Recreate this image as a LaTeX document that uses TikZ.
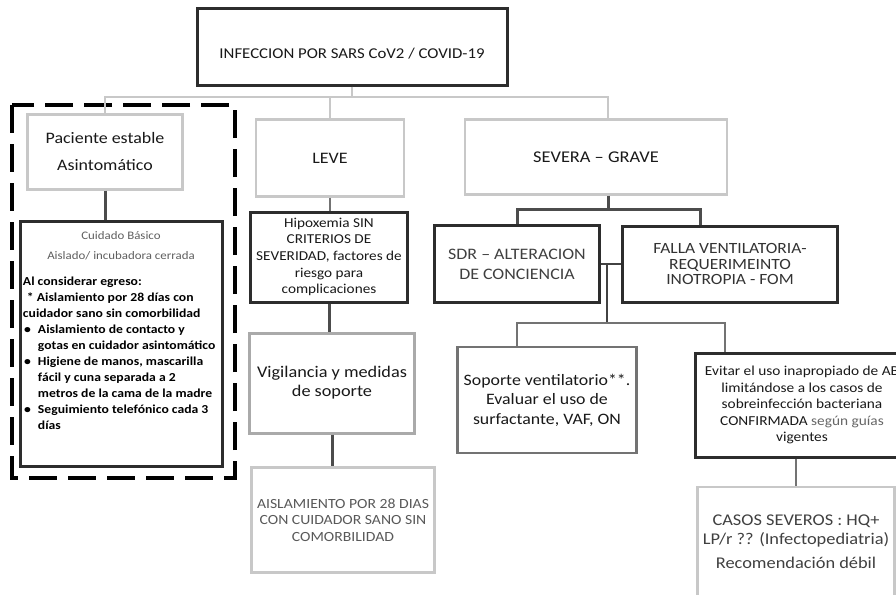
\documentclass[tikz,border=0pt]{standalone}
\usepackage{fontspec}
\setmainfont{Carlito}[FakeStretch=1.12]
\usepackage{tikz}
\definecolor{boxdark}{RGB}{45,45,45}
\definecolor{boxmid}{RGB}{115,115,115}
\definecolor{boxgrey}{RGB}{170,170,170}
\definecolor{boxlight}{RGB}{200,200,200}
\definecolor{textgray}{RGB}{95,95,95}
\newcommand{\fsz}[2]{\fontsize{#1}{#2}\selectfont}
\newcommand{\itm}{\makebox[15pt][l]{\hspace{1pt}\textbullet}}
\tikzset{
  box/.style={rectangle, align=center, inner sep=3pt, text=black!90},
  darkbox/.style={box, draw=boxdark, line width=3pt},
  midbox/.style={box, draw=boxmid, line width=2.2pt},
  greybox/.style={box, draw=boxgrey, line width=3pt},
  lightbox/.style={box, draw=boxlight, line width=2.4pt},
  darkline/.style={draw=boxdark!85, line width=3pt},
  midline/.style={draw=boxdark!90, line width=2pt},
  thinline/.style={draw=boxmid, line width=1.4pt},
  lightline/.style={draw=boxlight, line width=2.6pt},
}

\begin{document}
\begin{tikzpicture}[x=1pt,y=-1pt]
\useasboundingbox (0,0) rectangle (896,594);
\clip (0,0) rectangle (896,594);
\fill[white] (0,0) rectangle (896,594);

% root
\node[darkbox, minimum width=310pt, minimum height=76pt, text height=24pt, text depth=1pt, font=\fsz{15}{18}] (top) at (352,47) {INFECCION POR SARS CoV2 / COVID-19};

% estable
\draw[black, line width=4pt, dash pattern=on 28pt off 11pt] (12,105) rectangle (235,478);
\node[lightbox, minimum width=155pt, minimum height=75pt, font=\fsz{16}{27}] (pac) at (105,152) {Paciente estable\\Asintomático};
\node[darkbox, minimum width=202pt, minimum height=245pt, align=left, inner sep=2pt, text=black, font=\fsz{12.2}{16}\bfseries] (cui) at (121,344) {%
\makebox[196pt][c]{\mdseries\color{textgray}\fsz{11.5}{19}Cuidado Básico}\\[4pt]
\makebox[196pt][c]{\mdseries\color{textgray}\fsz{11.5}{19}Aislado/ incubadora cerrada}\\[10pt]
Al considerar egreso:\\
\hspace*{4pt}* Aislamiento por 28 días con\\
cuidador sano sin comorbilidad\\
\itm Aislamiento de contacto y\\
\hspace*{15pt}gotas en cuidador asintomático\\
\itm Higiene de manos, mascarilla\\
\hspace*{15pt}fácil y cuna separada a 2\\
\hspace*{15pt}metros de la cama de la madre\\
\itm Seguimiento telefónico cada 3\\
\hspace*{15pt}días\\[10pt]};

% leve
\node[lightbox, minimum width=148pt, minimum height=77pt, font=\fsz{16}{19}] (leve) at (330,158) {LEVE};
\node[darkbox, minimum width=157pt, minimum height=90pt, font=\fsz{13.6}{16.7}] (hip) at (329,257) {Hipoxemia SIN\\CRITERIOS DE\\SEVERIDAD, factores de\\riesgo para\\complicaciones};
\node[greybox, minimum width=165pt, minimum height=100pt, font=\fsz{16.3}{19}] (vig) at (332,383) {Vigilancia y medidas\\de soporte};
\node[lightbox, minimum width=183pt, minimum height=105pt, text=black!65, font=\fsz{14}{16.7}] (ais) at (343,520) {AISLAMIENTO POR 28 DIAS\\CON CUIDADOR SANO SIN\\COMORBILIDAD};

% severa
\node[lightbox, minimum width=262pt, minimum height=75pt, font=\fsz{16.4}{19}] (sev) at (596,157) {SEVERA – GRAVE};
\node[darkbox, minimum width=165pt, minimum height=77pt, text=black!75, font=\fsz{16}{20}] (sdr) at (517,264) {SDR – ALTERACION\\DE CONCIENCIA};
\node[darkbox, minimum width=215pt, minimum height=76pt, text=black!80, font=\fsz{15.6}{15.7}] (fal) at (730,264) {FALLA VENTILATORIA-\\REQUERIMEINTO\\INOTROPIA - FOM};
\node[midbox, minimum width=179pt, minimum height=106pt, font=\fsz{15.9}{19.5}] (sop) at (547,400) {Soporte ventilatorio**.\\Evaluar el uso de\\surfactante, VAF, ON};
\node[darkbox, minimum width=214pt, minimum height=104pt, font=\fsz{13.7}{16.5}] (evi) at (802,405) {Evitar el uso inapropiado de AB\\limitándose a los casos de\\sobreinfección bacteriana\\CONFIRMADA {\color{black!60}según guías}\\vigentes};
\node[lightbox, minimum width=197pt, minimum height=110pt, text=black!75, font=\fsz{16.4}{19}] (cas) at (796,542) {CASOS SEVEROS : HQ+\\LP/r ?? (Infectopediatria)\\[5pt]Recomendación débil};

% connectors
\coordinate (bar) at (352,97);
\draw[lightline] (top.south) -- (bar);
\draw[lightline] (pac.north) |- (bar) -| ([xshift=12pt]sev.north);
\draw[lightline] (leve.north |- bar) -- (leve.north);
\draw[darkline] (pac.south) -- (pac.south |- cui.north);
\draw[thinline] (leve.south) -- (leve.south |- hip.north);
\draw[darkline] (hip.south) -- (hip.south |- vig.north);
\draw[darkline] (vig.south) -- (vig.south |- ais.north);

\coordinate (b1) at (608,209);
\draw[darkline] ([xshift=12pt]sev.south) -- (b1);
\draw[darkline] (sdr.north) |- (b1) -| ([xshift=-30pt]fal.north);
\coordinate (j) at (607,264);
\coordinate (b2) at (607,323);
\draw[midline] (sdr.east) -- (fal.west);
\draw[midline] (j) -- (b2);
\draw[thinline] ([xshift=-30pt]sop.north) |- (b2) -| ([xshift=-77pt]evi.north);
\draw[thinline] (cas.north) -- (cas.north |- evi.south);
\end{tikzpicture}
\end{document}
